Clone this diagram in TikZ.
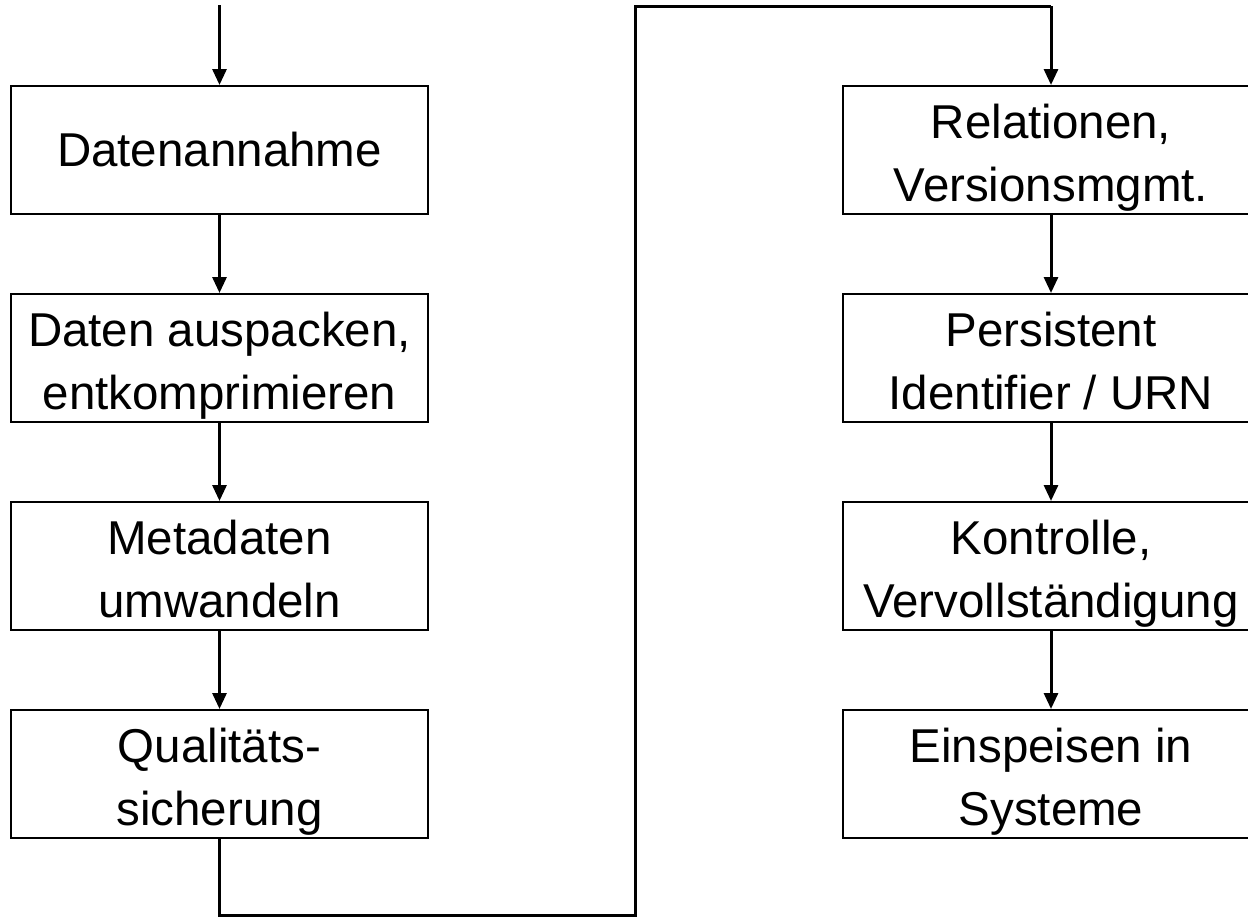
\documentclass[tikz,border=0pt]{standalone}
\usepackage{fontspec}
\setmainfont{Liberation Sans}
\usetikzlibrary{arrows.meta}
\begin{document}
\begin{tikzpicture}[x=1pt,y=-1pt,
  stepbox/.style={draw, line width=2pt, minimum width=417pt, minimum height=128pt,
    inner sep=0pt, align=center, font=\fontsize{47.5}{63}\selectfont},
  twoline/.style={stepbox, text height=110pt, text depth=8pt},
  flow/.style={line width=3pt, -{Triangle[length=16pt,width=14pt]}},
  link/.style={line width=3pt}]
  \useasboundingbox (0,0) rectangle (1248,919);
  % left column
  \node[stepbox] (a1) at (219.5,150) {Datenannahme};
  \node[twoline] (a2) at (219.5,358) {Daten auspacken,\\entkomprimieren};
  \node[twoline] (a3) at (219.5,566) {Metadaten\\umwandeln};
  \node[twoline] (a4) at (219.5,774) {Qualitäts-\\sicherung};
  % right column
  \node[twoline] (b1) at (1051,150) {Relationen,\\Versionsmgmt.};
  \node[twoline] (b2) at (1051,358) {Persistent\\Identifier / URN};
  \node[twoline] (b3) at (1051,566) {Kontrolle,\\Vervollständigung};
  \node[twoline] (b4) at (1051,774) {Einspeisen in\\Systeme};
  % entry point and return path
  \coordinate (start) at (219.5,5);
  \coordinate (down) at (219.5,915);
  \coordinate (across) at (635,915);
  \coordinate (up) at (635,6);
  \coordinate (over) at (1051,6);
  \draw[flow] (start) -- (a1.north);
  \draw[flow] (a1) -- (a2);
  \draw[flow] (a2) -- (a3);
  \draw[flow] (a3) -- (a4);
  \draw[link, line join=miter] (a4.south) -- (down) -- (across) -- (up) -- (over);
  \draw[flow] (over) -- (b1.north);
  \draw[flow] (b1) -- (b2);
  \draw[flow] (b2) -- (b3);
  \draw[flow] (b3) -- (b4);
\end{tikzpicture}
\end{document}
